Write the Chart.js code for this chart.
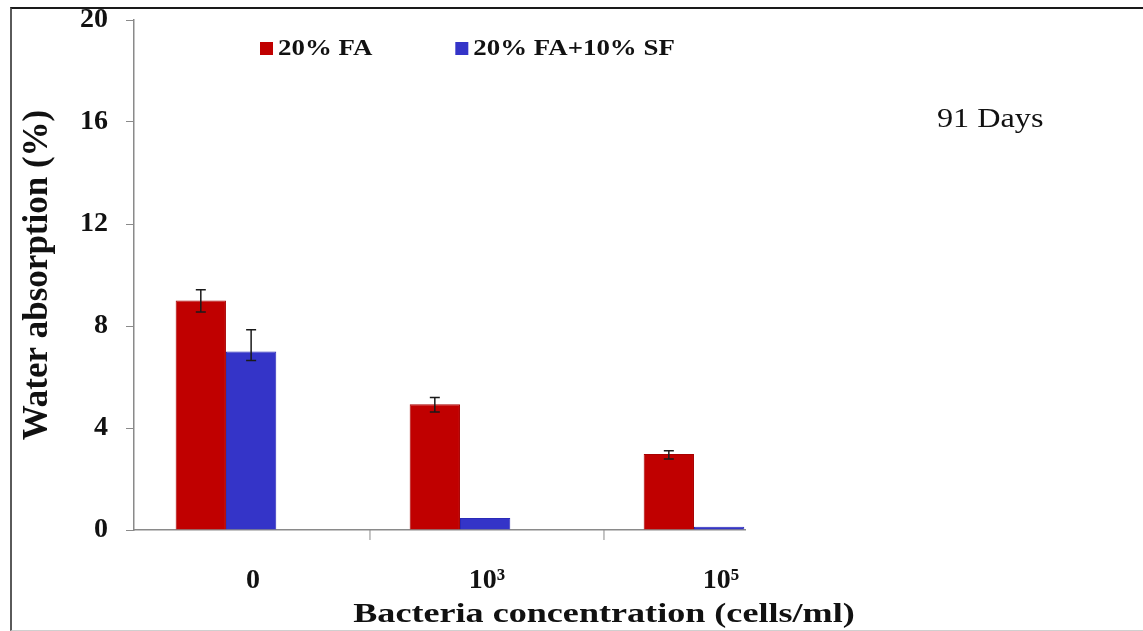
<!DOCTYPE html>
<html>
<head>
<meta charset="utf-8">
<script src="https://cdn.jsdelivr.net/npm/chart.js@4.4.1/dist/chart.umd.min.js"></script>
<style>
  html, body { margin: 0; padding: 0; background: #fff; }
  #wrap { position: relative; width: 1143px; height: 631px; }
  #frame { position: absolute; left: 10px; top: 7px; right: 0; bottom: 0;
           border-top: 2px solid #1a1a1a; border-left: 2px solid #5a5a5a; border-bottom: 1px solid #cfcfcf;
           pointer-events: none; }
</style>
</head>
<body>
<div id="wrap">
  <canvas id="chart" width="1143" height="631"></canvas>
  <div id="frame"></div>
</div>
<script>
const categories = ['0', '10³', '10⁵'];
const faValues = [9.0, 4.93, 2.98];
const sfValues = [7.0, 0.47, 0.13];
const faErrUp = [0.42, 0.27, 0.13];
const faErrDown = [0.45, 0.3, 0.2];
const sfErrUp = [0.85, 0, 0];
const sfErrDown = [0.35, 0, 0];
const seriesNames = ['20% FA', '20% FA+10% SF'];
const yMax = 20, yStep = 4;

const SERIF = '"Liberation Serif", "Times New Roman", serif';
const LABEL_SHIFT = 27;   // category labels sit right of the bar groups, as in the original

const errorBars = {
  id: 'errorBars',
  afterDatasetsDraw(chart) {
    const y = chart.scales.y;
    const errs = [[faErrUp, faErrDown], [sfErrUp, sfErrDown]];
    const ctx = chart.ctx;
    ctx.save();
    ctx.strokeStyle = '#1a1a1a';
    ctx.lineWidth = 1.5;
    chart.data.datasets.forEach((ds, d) => {
      chart.getDatasetMeta(d).data.forEach((bar, i) => {
        const up = errs[d][0][i], down = errs[d][1][i];
        if (!up && !down) return;
        const v = ds.data[i].y;
        const top = y.getPixelForValue(v + up), bot = y.getPixelForValue(v - down);
        ctx.beginPath();
        ctx.moveTo(bar.x, top); ctx.lineTo(bar.x, bot);
        ctx.moveTo(bar.x - 5, top); ctx.lineTo(bar.x + 5, top);
        ctx.moveTo(bar.x - 5, bot); ctx.lineTo(bar.x + 5, bot);
        ctx.stroke();
      });
    });
    ctx.restore();
  }
};

function stretchText(ctx, text, x, y, sx) {
  ctx.save();
  ctx.translate(x, y);
  ctx.scale(sx, 1);
  ctx.fillText(text, 0, 0);
  ctx.restore();
}

const extras = {
  id: 'extras',
  afterDraw(chart) {
    const ctx = chart.ctx, a = chart.chartArea, x = chart.scales.x;
    ctx.save();
    // small boundary ticks under the x axis
    ctx.strokeStyle = '#8a8a8a';
    ctx.lineWidth = 1;
    for (let i = 0; i < categories.length - 1; i++) {
      const px = x.getPixelForValue(i + 0.5) + LABEL_SHIFT;
      ctx.beginPath(); ctx.moveTo(px, a.bottom); ctx.lineTo(px, a.bottom + 10); ctx.stroke();
    }
    // legend inside the plot
    ctx.font = 'bold 24px ' + SERIF;
    ctx.textBaseline = 'alphabetic';
    let lx = a.left + 126;
    chart.data.datasets.forEach(ds => {
      ctx.fillStyle = ds.backgroundColor;
      ctx.fillRect(lx, a.top + 22, 13, 13);
      ctx.fillStyle = '#111';
      const w = ctx.measureText(ds.label).width * 1.12;
      stretchText(ctx, ds.label, lx + 18, a.top + 35, 1.12);
      lx += 18 + w + 83;
    });
    // period note
    ctx.font = '28px ' + SERIF;
    ctx.fillStyle = '#111';
    stretchText(ctx, '91 Days', 937, 127, 1.15);
    // x axis title
    ctx.font = 'bold 28px ' + SERIF;
    ctx.textAlign = 'center';
    stretchText(ctx, 'Bacteria concentration (cells/ml)', 604, 622, 1.29);
    ctx.restore();
  }
};

new Chart(document.getElementById('chart'), {
  type: 'bar',
  data: {
    datasets: [{
      label: seriesNames[0],
      data: faValues.map((v, i) => ({ x: i, y: v })),
      backgroundColor: '#C00000',
      borderColor: '#a80000',
      borderWidth: 1,
      categoryPercentage: 0.43,
      barPercentage: 1
    }, {
      label: seriesNames[1],
      data: sfValues.map((v, i) => ({ x: i, y: v })),
      backgroundColor: '#3434C8',
      borderColor: '#2a2ab8',
      borderWidth: 1,
      categoryPercentage: 0.43,
      barPercentage: 1
    }]
  },
  options: {
    responsive: false,
    animation: false,
    layout: { padding: { top: 20, right: 398, left: 0, bottom: 0 } },
    plugins: { legend: { display: false }, tooltip: { enabled: false } },
    scales: {
      x: {
        type: 'linear',
        offset: false,
        min: -0.393, max: 2.218,
        afterBuildTicks: s => { s.ticks = categories.map((c, i) => ({ value: i })); },
        afterFit: s => { s.height = 101; s.paddingLeft = 0; s.paddingRight = 0; },
        grid: { display: false },
        border: { display: true, color: '#8a8a8a', width: 1.5 },
        ticks: {
          callback: v => categories[v],
          labelOffset: LABEL_SHIFT,
          padding: 26,
          maxRotation: 0,
          autoSkip: false,
          color: '#111',
          font: { family: SERIF, size: 28, weight: 'bold' }
        }
      },
      y: {
        min: 0, max: yMax,
        afterFit: s => { s.width = 134; s.paddingTop = 0; s.paddingBottom = 0; },
        grid: { drawOnChartArea: false, drawTicks: true, tickLength: 8, color: '#8a8a8a' },
        border: { display: true, color: '#8a8a8a', width: 1.5 },
        ticks: {
          stepSize: yStep,
          padding: 18,
          color: '#111',
          font: { family: SERIF, size: 28, weight: 'bold' }
        },
        title: {
          display: true,
          text: 'Water absorption (%)',
          color: '#111',
          font: { family: SERIF, size: 35, weight: 'bold' },
          padding: { top: 17, bottom: 0 }
        }
      }
    }
  },
  plugins: [errorBars, extras]
});
</script>
</body>
</html>
